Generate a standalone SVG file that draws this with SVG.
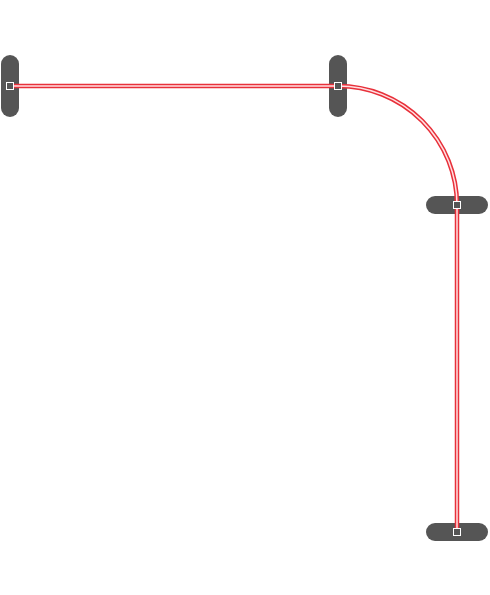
<svg xmlns="http://www.w3.org/2000/svg" width="490" height="595" viewBox="0 0 490 595">
<style>
.pill{fill:#555555;}
.port{fill:#555555;stroke:#ffffff;stroke-width:1;}
.wire-o{fill:none;stroke:#e8303a;stroke-width:4.5;}
.wire-i{fill:none;stroke:#ffe0e2;stroke-width:1.5;}
</style>
<rect width="490" height="595" fill="#ffffff"/>
<g id="node-a"><rect class="pill" x="1" y="55" width="18" height="62" rx="9"/></g>
<g id="node-b"><rect class="pill" x="329" y="55" width="18" height="62" rx="9"/></g>
<g id="node-c"><rect class="pill" x="426" y="196" width="62" height="18" rx="9"/></g>
<g id="node-d"><rect class="pill" x="426" y="523" width="62" height="18" rx="9"/></g>
<g id="connectors">
<path class="wire-o" d="M10 86 H338 A119 119 0 0 1 457 205 V532"/>
<path class="wire-i" d="M10 86 H338 A119 119 0 0 1 457 205 V532"/>
</g>
<g id="ports">
<rect class="port" x="6.5" y="82.5" width="7" height="7"/>
<rect class="port" x="334.5" y="82.5" width="7" height="7"/>
<rect class="port" x="453.5" y="201.5" width="7" height="7"/>
<rect class="port" x="453.5" y="528.5" width="7" height="7"/>
</g>
</svg>
